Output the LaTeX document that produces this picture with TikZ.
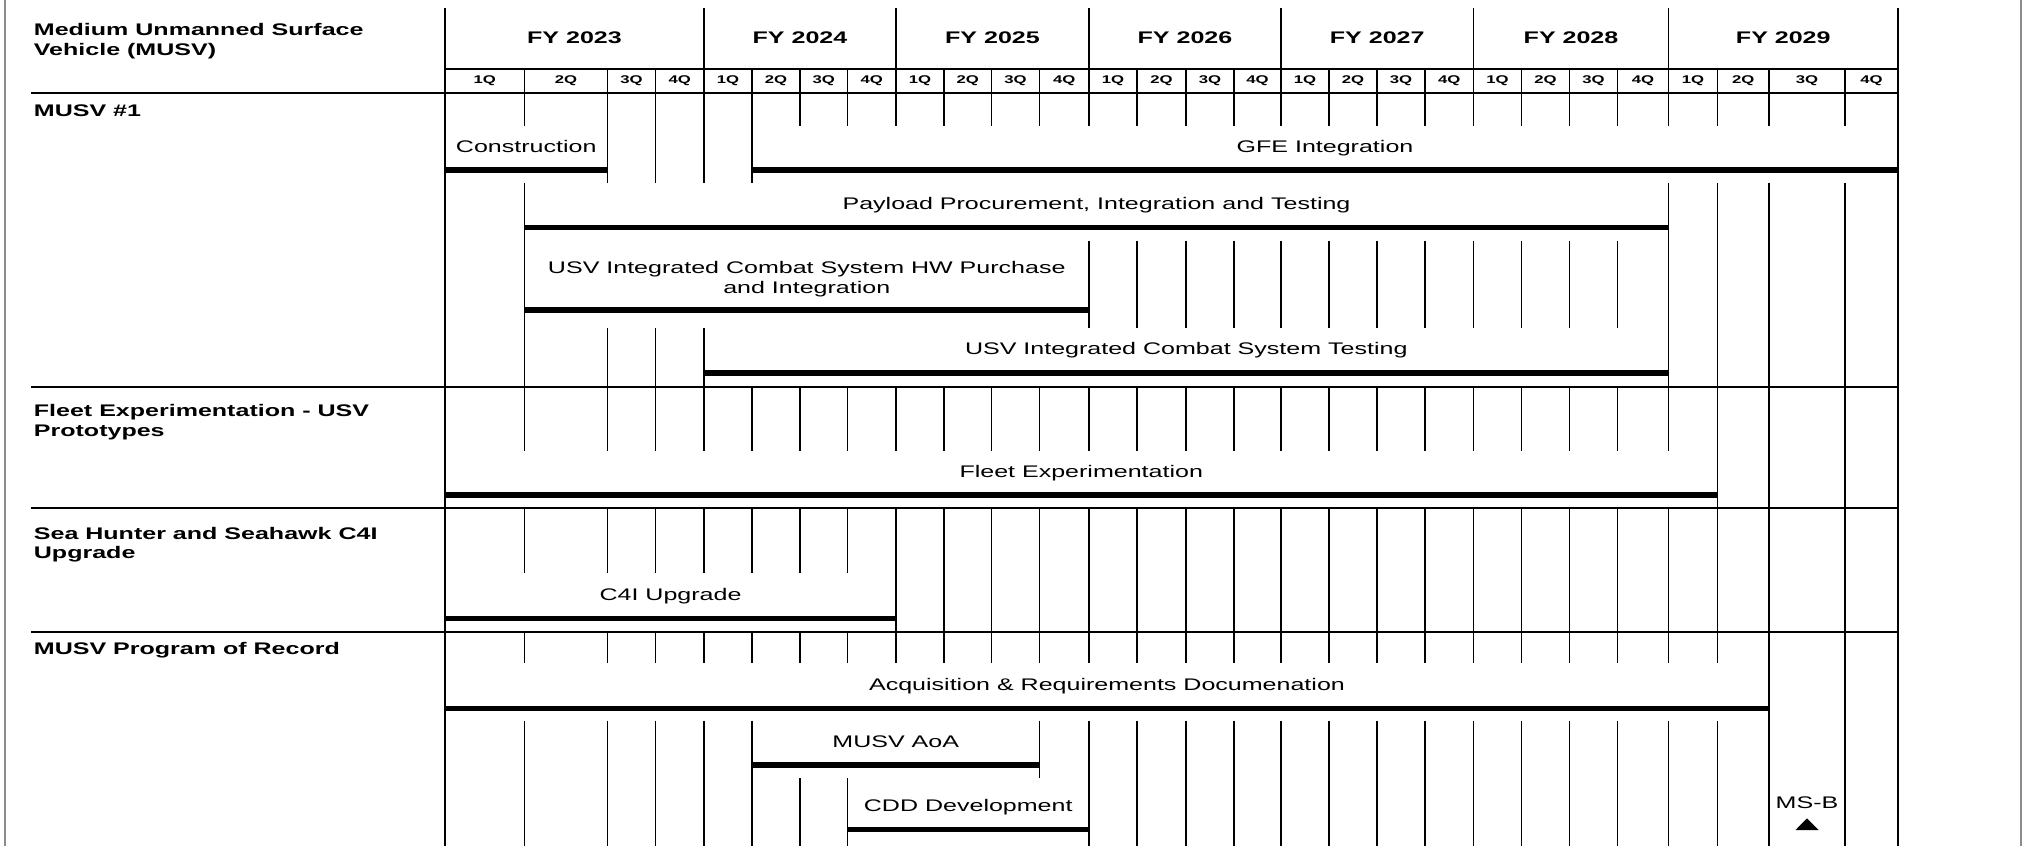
\documentclass[tikz,border=0pt]{standalone}
\usepackage{fontspec}
\setmainfont{Liberation Sans}[FakeStretch=1.49]
\usepackage{tikz}
\usetikzlibrary{positioning,calc}

\tikzset{
  griglia/.style={line width=0.9pt},
  barra/.style={line width=2.8pt},
  attivita/.style={font=\fontsize{8.4}{9.6}\selectfont, anchor=base, align=center, inner sep=0pt},
  sezione/.style={font=\bfseries\fontsize{8.4}{9.6}\selectfont, anchor=base west, align=left, inner sep=0pt},
  anno/.style={font=\bfseries\fontsize{8.4}{9.6}\selectfont, anchor=base, inner sep=0pt},
  trimestre/.style={font=\bfseries\fontsize{5.6}{6.5}\selectfont, anchor=base, inner sep=0pt}
}

% divisori da #1 a #2 tra y=#3 e y=#4
\newcommand{\divisori}[4]{%
  \foreach \i in {#1,...,#2} \draw[griglia] ($(q\i)+(0,#3)$) -- ($(q\i)+(0,#4)$);}

% barra da #2 a #3 a quota #4, nodo #5 con testo #6
\newcommand{\fase}[6][18]{%
  \draw[barra] ($(q#2)+(0,#4)$) -- ($(q#3)+(0,#4)$);
  \node[attivita] (#5) at ($(q#2)!0.5!(q#3)+(0,#4-#1)$) {#6};}

\begin{document}
\begin{tikzpicture}[x=0.5pt, y=-0.5pt]
  \useasboundingbox (0,0) rectangle (2023,846);
  % ascisse dei trimestri
  \foreach \x [count=\i from 0] in {445,524.5,607.5,655.5,704,752,800,847.5,896,944,991.5,1039.5,1089,1137,1186,1234,1281,1329,1377,1425,1473.5,1521.5,1569.5,1617.5,1668.5,1717.5,1769,1845,1898}
    \coordinate (q\i) at (\x,0);
  % bordi della pagina
  \draw[black!45, line width=1pt] (4.5,0) -- (4.5,846);
  \draw[black!45, line width=1pt] (2020.5,0) -- (2020.5,846);

  % intestazione
  \node[sezione] (titolo) at (33.5,55) {Medium Unmanned Surface\\Vehicle (MUSV)};
  \foreach \a [count=\k from 0] in {2023,...,2029} {
    \pgfmathtruncatemacro{\ka}{4*\k}
    \pgfmathtruncatemacro{\kb}{4*\k+4}
    \node[anno] (fy\a) at ($(q\ka)!0.5!(q\kb)+(0,43.7)$) {FY \a};
  }
  \foreach \i in {0,...,27} {
    \pgfmathtruncatemacro{\t}{mod(\i,4)+1}
    \pgfmathtruncatemacro{\j}{\i+1}
    \node[trimestre] (tq\i) at ($(q\i)!0.5!(q\j)+(0,83.5)$) {\t Q};
  }
  \foreach \k in {4,8,...,24} \draw[griglia] ($(q\k)+(0,8.3)$) -- ($(q\k)+(0,69)$);
  \divisori{1}{27}{69}{93.3}
  \draw[griglia] ($(q0)+(0,8.3)$) -- ($(q0)+(0,846)$);
  \draw[griglia] ($(q28)+(0,8.3)$) -- ($(q28)+(0,846)$);
  \draw[griglia] ($(q0)+(0,69)$) -- ($(q28)+(0,69)$);
  \foreach \y in {93.3,386.7,508.3,632.3} \draw[griglia] (31,\y) -- ($(q28)+(0,\y)$);

  % MUSV #1
  \node[sezione] (musv) at (33.5,116) {MUSV \#1};
  \divisori{1}{27}{93.3}{126}
  \divisori{2}{5}{126}{182.7}
  \fase{0}{2}{170}{costr}{Construction}
  \fase{5}{28}{170}{gfe}{GFE Integration}
  \divisori{1}{1}{182.7}{386.7}
  \divisori{24}{27}{182.7}{386.7}
  \fase{1}{24}{227.3}{payload}{Payload Procurement, Integration and Testing}
  \divisori{12}{23}{240.7}{328.3}
  \fase[17]{1}{12}{310}{hw}{USV Integrated Combat System HW Purchase\\and Integration}
  \divisori{2}{4}{328.3}{386.7}
  \fase{4}{24}{372.7}{icstest}{USV Integrated Combat System Testing}

  % Fleet Experimentation
  \node[sezione] (fleet) at (33.5,436) {Fleet Experimentation - USV\\Prototypes};
  \divisori{1}{27}{386.7}{450.7}
  \divisori{25}{27}{450.7}{508.3}
  \fase{0}{25}{495}{fleetexp}{Fleet Experimentation}

  % Sea Hunter e Seahawk
  \node[sezione] (seahunter) at (33.5,558.5) {Sea Hunter and Seahawk C4I\\Upgrade};
  \divisori{1}{27}{508.3}{573.3}
  \divisori{8}{27}{573.3}{632.3}
  \fase{0}{8}{618.3}{upgrade}{C4I Upgrade}

  % Program of Record
  \node[sezione] (por) at (33.5,654) {MUSV Program of Record};
  \divisori{1}{27}{632.3}{663.3}
  \divisori{26}{27}{663.3}{720.5}
  \fase{0}{26}{708.3}{acq}{Acquisition \& Requirements Documenation}
  \divisori{1}{5}{720.5}{778}
  \divisori{11}{27}{720.5}{778}
  \fase{5}{11}{765}{aoa}{MUSV AoA}
  \divisori{1}{7}{778}{846}
  \divisori{12}{27}{778}{846}
  \fase{7}{12}{829.3}{cdd}{CDD Development}
  \node[attivita] (msb) at (1807,808.7) {MS-B};
  \fill ($(msb.base)+(0,9.6)$) -- ++(11.5,11.7) -- ++(-23,0) -- cycle;
\end{tikzpicture}
\end{document}
